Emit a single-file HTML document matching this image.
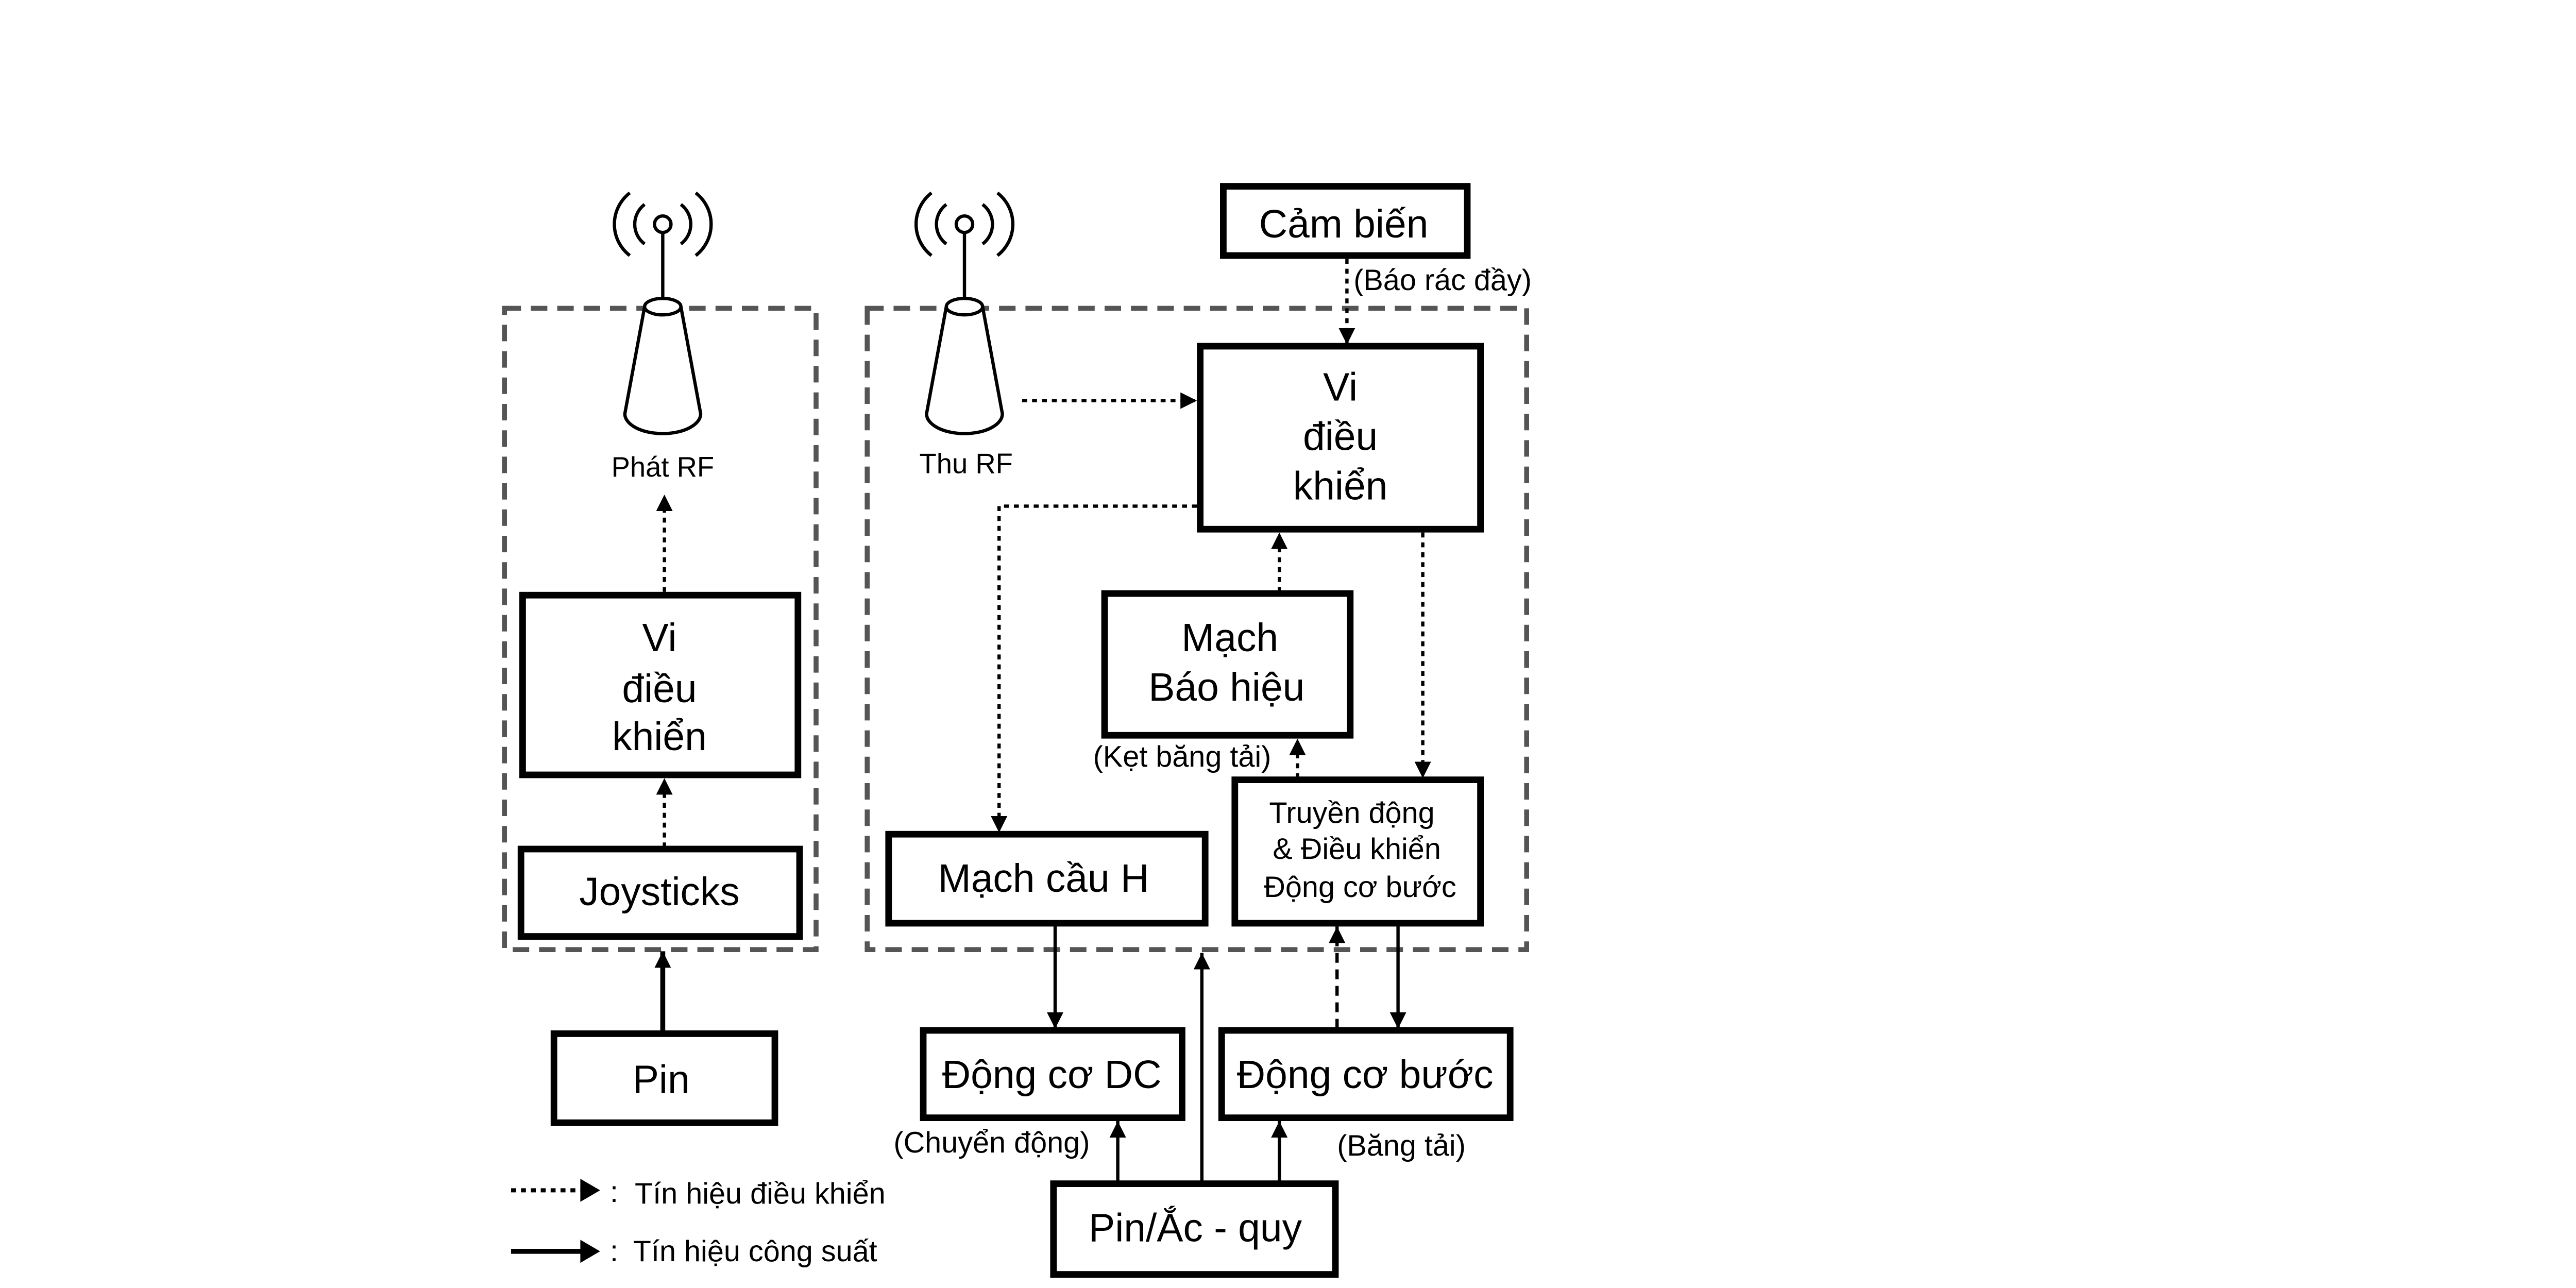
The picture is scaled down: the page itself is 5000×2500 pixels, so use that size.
<!DOCTYPE html>
<html><head><meta charset="utf-8">
<style>
html,body{margin:0;padding:0;background:#fff;}
svg{display:block;}
text{font-family:"Liberation Sans Narrow","Liberation Sans","Noto Sans CJK SC",sans-serif;fill:#000;}
</style></head>
<body>
<svg width="5000" height="2500" viewBox="2 2 1562.5 781.25" xmlns="http://www.w3.org/2000/svg">
<defs>
<marker id="ah" viewBox="0 0 10 10" refX="10" refY="5" markerWidth="10" markerHeight="10" markerUnits="userSpaceOnUse" orient="auto">
<path d="M0,0 L10,5 L0,10 z" fill="#000"/>
</marker>
</defs>
<rect x="0" y="0" width="1570" height="790" fill="#fff"/>

<g fill="none" stroke="#555" stroke-width="3" stroke-dasharray="10 6">
<rect x="308" y="189" width="189" height="389"/>
<rect x="528" y="189" width="400" height="389"/>
</g>

<g fill="#fff" stroke="#000" stroke-width="2">
<g id="ant">
<path d="M393,188 L381,253 A23,12 0 0 0 427,253 L415,188 Z"/>
<ellipse cx="404" cy="188" rx="11" ry="5"/>
<line x1="404" y1="143" x2="404" y2="183"/>
<circle cx="404" cy="138" r="5"/>
<path d="M393,126 A15,15 0 0 0 393,150" fill="none"/>
<path d="M415,126 A15,15 0 0 1 415,150" fill="none"/>
<path d="M384,119 A24,24 0 0 0 384,157" fill="none"/>
<path d="M424,119 A24,24 0 0 1 424,157" fill="none"/>
</g>
<use href="#ant" x="183"/>
</g>
<text x="404" y="291" font-size="17" text-anchor="middle">Phát RF</text>
<text x="588" y="289" font-size="17" text-anchor="middle">Thu RF</text>

<g fill="#fff" stroke="#000" stroke-width="4">
<rect x="319" y="363" width="167" height="109"/>
<rect x="318" y="517" width="169" height="53"/>
<rect x="338" y="629" width="134" height="54"/>
<rect x="744" y="115" width="148" height="42"/>
<rect x="730" y="212" width="170" height="111"/>
<rect x="672" y="362" width="149" height="86"/>
<rect x="541" y="508" width="192" height="54"/>
<rect x="751" y="475" width="149" height="87"/>
<rect x="562" y="627" width="157" height="53"/>
<rect x="743" y="627" width="175" height="53"/>
<rect x="641" y="720" width="171" height="55"/>
</g>

<g font-size="24" text-anchor="middle">
<text x="402" y="397">Vi</text>
<text x="402" y="428">điều</text>
<text x="402" y="457">khiển</text>
<text x="402" y="551">Joysticks</text>
<text x="403" y="665">Pin</text>
<text x="817" y="146">Cảm biến</text>
<text x="815" y="245">Vi</text>
<text x="815" y="275">điều</text>
<text x="815" y="305">khiển</text>
<text x="748" y="397">Mạch</text>
<text x="746" y="427">Báo hiệu</text>
<text x="635" y="543">Mạch cầu H</text>
<text x="640" y="662">Động cơ DC</text>
<text x="830" y="662">Động cơ bước</text>
<text x="727" y="755">Pin/Ắc - quy</text>
</g>
<g font-size="18" text-anchor="middle">
<text x="822" y="501">Truyền động</text>
<text x="825" y="523">&amp; Điều khiển</text>
<text x="827" y="546">Động cơ bước</text>
</g>
<g font-size="18">
<text x="823" y="178">(Báo rác đầy)</text>
<text x="665" y="467">(Kẹt băng tải)</text>
<text x="544" y="701">(Chuyển động)</text>
<text x="813" y="703">(Băng tải)</text>
</g>

<g fill="none" stroke="#000" stroke-width="2" stroke-dasharray="3 3" marker-end="url(#ah)">
<line x1="405" y1="516" x2="405" y2="474"/>
<line x1="405" y1="361" x2="405" y2="302"/>
<line x1="819" y1="159" x2="819" y2="211"/>
<line x1="622" y1="245" x2="728" y2="245"/>
<polyline points="728,309 608,309 608,507"/>
<line x1="778" y1="361" x2="778" y2="325"/>
<line x1="789" y1="474" x2="789" y2="450"/>
<line x1="865" y1="325" x2="865" y2="474"/>
<line x1="813" y1="626" x2="813" y2="564" stroke-dasharray="6 4"/>
</g>

<g fill="none" stroke="#000" stroke-width="2" marker-end="url(#ah)">
<line x1="404" y1="628" x2="404" y2="579" stroke-width="3"/>
<line x1="642" y1="563" x2="642" y2="626"/>
<line x1="850" y1="563" x2="850" y2="626"/>
<line x1="680" y1="719" x2="680" y2="682"/>
<line x1="731" y1="719" x2="731" y2="580"/>
<line x1="778" y1="719" x2="778" y2="682"/>
</g>

<line x1="312" y1="724" x2="355" y2="724" stroke="#000" stroke-width="2.5" stroke-dasharray="3 3"/>
<path d="M354,717 L366,724 L354,731 z" fill="#000"/>
<line x1="312" y1="761" x2="355" y2="761" stroke="#000" stroke-width="3"/>
<path d="M354,754 L366,761 L354,768 z" fill="#000"/>
<text x="372" y="731" font-size="18">:</text>
<text x="372" y="767" font-size="18">:</text>
<text x="387" y="732" font-size="18">Tín hiệu điều khiển</text>
<text x="386" y="767" font-size="18">Tín hiệu công suất</text>
</svg>
</body></html>
